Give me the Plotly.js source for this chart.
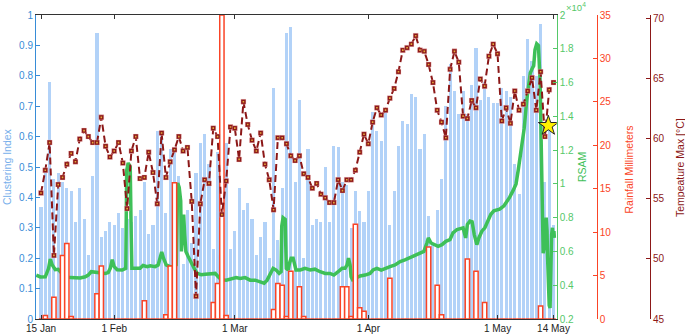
<!DOCTYPE html>
<html>
<head>
<meta charset="utf-8">
<script src="https://cdn.plot.ly/plotly-3.0.1.min.js"></script>
<style>html,body{margin:0;padding:0;background:#fff;}#chart{width:685px;height:336px;}</style>
</head>
<body>
<div id="chart"></div>
<script>
// ---- data ----
const startDate = '2015-01-15';
const clusterIndex = [0.37,0.49,0.78,0.46,0.48,0.45,0.43,0.42,0.32,0.43,0.33,0.21,0.47,0.94,0.27,0.29,0.32,0.31,0.35,0.30,
  0.33,0.32,0.34,0.36,0.45,0.28,0.31,0.62,0.62,0.35,0.56,0.55,0.47,0.18,0.36,0.25,0.48,0.58,0.61,0.51,
  0.23,0.55,0.50,0.58,0.23,0.29,0.43,0.36,0.38,0.33,0.21,0.27,0.32,0.20,0.76,0.26,0.43,0.94,0.96,0.45,
  0.72,0.20,0.56,0.31,0.33,0.32,0.50,0.32,0.57,0.565,0.45,0.44,0.30,0.42,0.355,0.32,0.42,0.68,0.62,0.585,
  0.69,0.31,0.42,0.57,0.65,0.64,0.74,0.73,0.56,0.61,0.34,0.25,0.36,0.46,0.70,0.84,0.75,0.675,0.75,0.675,
  0.77,0.89,0.72,0.78,0.73,0.71,0.71,0.76,0.75,0.73,0.51,0.41,0.80,0.92,0.85,0.80,0.97,0.45,0.64,0.31];
const rainfallMm = [0,0.4,0,2.5,0,7.3,8.7,0.3,0,0,0,0,0,2.9,6.1,0,0,0,0,0,
  0,0,0,0,2.1,0,0,0,0,0.5,6.1,15.7,0,0,0,0,0,0,0,0,
  1.9,4.1,35,0.4,0,0,0,0,0,0,0,0,0,0,1.1,4.1,3.9,0.3,5.5,0,
  3.7,0.3,0,0,0,0,0,0,0,0,3.7,3.7,0.3,10.9,1.3,0.9,0,0,0,0,
  0,4.7,0,0,0,0,0,0,0,0,8.3,0,3.9,0.5,0,0,0,0,0,6.9,
  0,5.5,0,1.9,0,0,0,0,0,0,0,0,0,0,0,0,1.5,0,0,0];
const tempMax = [55.5,57.4,59.7,50.3,56.2,56.8,57.9,58.8,58.1,60.0,60.7,60.2,59.7,59.7,61.8,59.4,58.5,59.0,59.7,58.0,
  54.2,59.0,60.2,56.7,56.8,58.9,57.2,54.6,60.5,56.8,58.1,59.1,60.2,59.0,59.3,54.8,46.9,54.6,56.6,56.3,
  60.9,60.2,53.7,56.5,61.0,60.9,58.3,63.1,61.2,59.9,59.0,60.5,57.9,56.6,54.1,60.1,60.1,59.6,58.6,58.2,
  58.6,57.1,56.8,55.9,56.3,55.4,55.1,54.7,54.7,56.6,55.7,56.6,56.6,57.4,58.9,60.4,59.6,61.4,62.6,62.0,
  62.4,63.4,64.2,65.6,67.4,67.6,67.9,68.6,67.4,67.3,66.2,64.7,62.4,61.4,60.1,65.8,67.3,66.4,61.9,61.7,
  63.2,62.6,65.0,64.4,66.9,67.9,67.1,61.5,62.6,61.3,64.0,62.4,62.9,64.0,65.1,62.4,65.6,60.2,64.1,64.7];
// RSAM: day offset from 15 Jan, value in units of 10^4
const rsamDay = [-1.1,-0.16,1.0,1.76,2.16,2.62,3.32,4.0,4.87,5.64,6.8,7.96,9.12,10.28,10.97,11.67,12.6,13.76,14.92,15.61,
  16.08,16.54,17.0,17.7,18.86,19.68,19.9,20.25,20.72,20.95,21.1,21.9,23.0,23.7,24.66,25.36,26.5,27.2,27.7,28.03,
  28.44,29.07,30.0,30.93,31.4,31.55,31.74,32.09,32.44,32.6,32.9,33.13,33.36,33.64,34.18,34.87,35.57,36.26,37.19,38.12,
  39.28,40.44,41.14,41.84,43.0,44.16,45.32,46.24,47.4,48.57,49.73,50.9,51.81,52.5,53.2,53.9,54.6,55.3,55.75,55.9,
  56.2,56.7,56.95,57.4,57.7,58.07,58.54,58.9,59.2,60.2,61.3,62.5,63.6,64.8,66.0,67.1,68.0,69.0,69.9,70.6,
  71.07,71.4,71.77,72.0,72.34,72.9,74.1,75.25,76.4,77.1,78.0,79.0,79.9,81.04,82.2,83.4,84.5,85.7,86.8,88.0,
  88.9,89.6,89.93,90.56,91.5,92.2,93.1,94.0,94.96,95.66,96.6,97.3,98.0,98.6,99.0,99.6,100.1,100.6,101.2,101.67,
  102.36,103.06,103.76,104.45,105.15,105.85,106.5,107.5,108.1,108.8,109.6,110.3,110.8,111.2,111.7,112.2,112.8,113.2,113.6,114.0,
  114.4,114.7,115.1,115.5,115.9,116.1,116.3,116.5,116.6,116.8,117.0,117.1,117.3,117.5,117.6,117.8,118.0,118.2,118.4,118.56,
  118.75,118.94,119.1,119.2];
const rsamVal = [0.46,0.449,0.45,0.50,0.555,0.52,0.492,0.494,0.47,0.452,0.445,0.443,0.443,0.45,0.46,0.48,0.478,0.472,0.47,0.475,
  0.50,0.551,0.51,0.492,0.49,0.50,1.08,1.124,1.10,0.70,0.50,0.50,0.50,0.517,0.51,0.515,0.51,0.52,0.56,0.597,
  0.56,0.52,0.51,0.51,0.52,0.95,1.005,0.98,0.90,0.60,0.75,0.818,0.70,0.60,0.57,0.53,0.50,0.47,0.462,0.465,
  0.47,0.47,0.45,0.433,0.43,0.44,0.445,0.44,0.445,0.43,0.43,0.42,0.412,0.43,0.46,0.50,0.49,0.47,0.48,0.75,
  0.80,0.79,0.50,0.49,0.53,0.56,0.56,0.52,0.49,0.49,0.50,0.49,0.495,0.48,0.47,0.47,0.46,0.48,0.50,0.50,
  0.52,0.56,0.52,0.45,0.433,0.44,0.455,0.46,0.47,0.49,0.50,0.49,0.50,0.51,0.52,0.54,0.55,0.565,0.575,0.59,
  0.60,0.65,0.68,0.65,0.64,0.63,0.64,0.66,0.67,0.71,0.73,0.735,0.74,0.68,0.76,0.78,0.775,0.70,0.64,0.68,
  0.72,0.74,0.78,0.82,0.84,0.845,0.85,0.87,0.89,0.92,0.96,1.0,1.08,1.15,1.24,1.33,1.50,1.58,1.657,1.68,
  1.70,1.794,1.83,1.82,1.60,1.30,1.05,0.75,0.59,0.62,0.78,0.70,0.80,0.72,0.58,0.42,0.28,0.265,0.55,0.70,
  0.74,0.68,0.72,0.68];
const starDay = [117.8];
const starTemp = [61.1];
const tickDates = ['2015-01-15','2015-02-01','2015-03-01','2015-04-01','2015-05-01','2015-05-14'];
const tickLabels = ['15 Jan','1 Feb','1 Mar','1 Apr','1 May','14 May'];

// ---- helpers ----
const DAY = 86400000;
const base = Date.parse(startDate + 'T00:00:00Z');
function dayToDate(d){ return new Date(base + d*DAY).toISOString().replace('Z',''); }
const days = clusterIndex.map((_, i) => dayToDate(i));

const FONT = 'Liberation Sans, Arial, sans-serif';
const cBlueBar = 'rgb(178,210,248)';
const cBlueAx = 'rgb(55,140,215)';
const cBlueTitle = 'rgb(120,175,235)';
const cGreen = 'rgb(62,192,88)';
const cGreenAx = 'rgb(85,200,105)';
const cRain = 'rgb(250,68,38)';
const cTemp = 'rgb(140,24,24)';

const traces = [
  {type:'bar', x:days, y:clusterIndex, xaxis:'x', yaxis:'y', width:0.72*DAY,
   marker:{color:cBlueBar, line:{width:0}}, hoverinfo:'skip', showlegend:false},
  {type:'scatter', mode:'lines', x:rsamDay.map(dayToDate), y:rsamVal, xaxis:'x', yaxis:'y2',
   line:{color:cGreen, width:3.5}, hoverinfo:'skip', showlegend:false},
  {type:'bar', x:days, y:rainfallMm, xaxis:'x', yaxis:'y3', width:1.0*DAY,
   marker:{color:'#ffffff', line:{color:cRain, width:1.5}}, hoverinfo:'skip', showlegend:false},
  {type:'scatter', mode:'lines+markers', x:days, y:tempMax, xaxis:'x', yaxis:'y4',
   line:{color:cTemp, width:2, dash:'7px,4px'},
   marker:{symbol:'square', size:5, color:cTemp, line:{color:'rgba(255,200,200,0.7)', width:0.5}},
   hoverinfo:'skip', showlegend:false},
  {type:'scatter', mode:'markers', x:days, y:tempMax, xaxis:'x', yaxis:'y4',
   marker:{symbol:'square', size:1.6, color:'rgb(230,170,60)'}, hoverinfo:'skip', showlegend:false},
  {type:'scatter', mode:'markers', x:starDay.map(dayToDate), y:starTemp, xaxis:'x', yaxis:'y4',
   marker:{symbol:'star', size:15, color:'rgb(255,240,0)', line:{color:'#222', width:1}},
   hoverinfo:'skip', showlegend:false}
];

const L = 36, R = 35, W = 685, H = 336;
const PW = W - L - R;
const px = v => (v - L) / PW;
const plotTop = 15, plotBot = 319;
const py = v => (plotBot - v) / (plotBot - plotTop);

const axBase = {showgrid:false, zeroline:false, ticks:'inside', ticklen:4, tickwidth:1, linewidth:1, showline:true,
  tickfont:{family:FONT, size:10}};

const layout = {
  width:W, height:H, margin:{l:L, r:R, t:plotTop, b:H-plotBot, pad:0},
  paper_bgcolor:'#fff', plot_bgcolor:'#fff', barmode:'overlay', bargap:0, showlegend:false,
  font:{family:FONT, size:10},
  xaxis:Object.assign({}, axBase, {type:'date', domain:[0, px(556.7)],
    range:[dayToDate(-1.16), dayToDate(119.74)], tickvals:tickDates, ticktext:tickLabels,
    linecolor:'#333', tickcolor:'#333', mirror:'ticks', tickfont:{family:FONT, size:10, color:'#222'}}),
  yaxis:Object.assign({}, axBase, {range:[0,1], dtick:0.1, tick0:0, linecolor:cBlueAx, tickcolor:cBlueAx,
    tickfont:{family:FONT, size:10, color:cBlueAx}}),
  yaxis2:Object.assign({}, axBase, {overlaying:'y', side:'right', anchor:'x', range:[0.2,2], dtick:0.2, tick0:0.2,
    linecolor:cGreenAx, tickcolor:cGreenAx, tickfont:{family:FONT, size:10, color:cGreenAx}}),
  yaxis3:Object.assign({}, axBase, {overlaying:'y', side:'right', anchor:'free', position:px(596.7), range:[0,35], dtick:5, tick0:0,
    linecolor:cRain, tickcolor:cRain, tickfont:{family:FONT, size:10, color:cRain}}),
  yaxis4:Object.assign({}, axBase, {overlaying:'y', side:'right', anchor:'free', position:1, range:[45,70.33],
    tickvals:[45,50,55,60,65,70], linecolor:cTemp, tickcolor:cTemp, tickfont:{family:FONT, size:10, color:cTemp}}),
  annotations:[
    {text:'Clustering Index', xref:'paper', yref:'paper', x:px(7), y:py(167), textangle:-90, showarrow:false,
     xanchor:'center', yanchor:'middle', font:{family:FONT, size:10.5, color:cBlueTitle}},
    {text:'RSAM', xref:'paper', yref:'paper', x:px(582), y:py(167), textangle:-90, showarrow:false,
     xanchor:'center', yanchor:'middle', font:{family:FONT, size:10.5, color:cGreen}},
    {text:'Rainfall Millimeters', xref:'paper', yref:'paper', x:px(628.5), y:py(170), textangle:-90, showarrow:false,
     xanchor:'center', yanchor:'middle', font:{family:FONT, size:10.5, color:cRain}},
    {text:'Tempeature Max [°C]', xref:'paper', yref:'paper', x:px(680), y:py(168), textangle:-90, showarrow:false,
     xanchor:'center', yanchor:'middle', font:{family:FONT, size:10.5, color:cTemp}},
    {text:'×10<sup>4</sup>', xref:'paper', yref:'paper', x:px(576), y:py(7), showarrow:false,
     xanchor:'center', yanchor:'middle', font:{family:FONT, size:9.5, color:cGreenAx}}
  ]
};

Plotly.newPlot('chart', traces, layout, {staticPlot:true, displayModeBar:false});
</script>
</body>
</html>
